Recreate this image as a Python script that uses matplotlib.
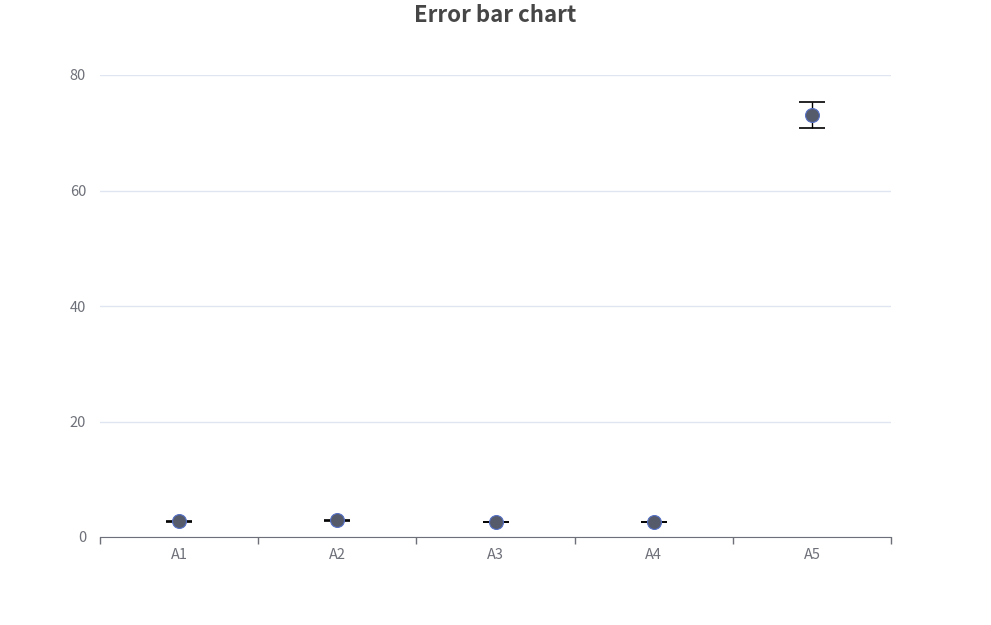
import matplotlib
matplotlib.use("Agg")
import matplotlib.pyplot as plt
import numpy as np

plt.rcParams['font.family'] = ['Noto Sans CJK SC', 'DejaVu Sans']

# data
categories = ['A1', 'A2', 'A3', 'A4', 'A5']
values = [2.7, 2.9, 2.6, 2.6, 73.1]
err_low = [0.05, 0.05, 0.05, 0.05, 2.3]
err_high = [0.05, 0.05, 0.05, 0.05, 2.2]
y_ticks = [0, 20, 40, 60, 80]

fig = plt.figure(figsize=(9.91, 6.25), dpi=100)
ax = fig.add_axes([100 / 991, 88 / 625, 791 / 991, 462 / 625])

x = np.arange(len(categories))
ax.errorbar(x, values, yerr=[err_low, err_high], fmt='none', ecolor='black',
            elinewidth=1, capsize=9.5, capthick=1.2, zorder=2)
ax.plot(x, values, 'o', ms=10, mfc='#565b6b', mec='#5470c6', mew=0.8,
        linestyle='none', zorder=3)

ax.set_xlim(-0.5, len(categories) - 0.5)
ax.set_ylim(0, 80)
ax.set_yticks(y_ticks)
ax.yaxis.grid(True, color='#e0e6f1', lw=1)
ax.set_axisbelow(True)

# category labels centred, ticks on the boundaries
ax.set_xticks(x)
ax.set_xticklabels(categories)
ax.set_xticks(np.arange(len(categories) + 1) - 0.5, minor=True)
ax.tick_params(axis='x', which='major', length=0, pad=8, labelcolor='#6e7079', labelsize=10.5)
ax.tick_params(axis='x', which='minor', length=5, color='#6e7079', width=1)
ax.tick_params(axis='y', length=0, pad=10, labelcolor='#6e7079', labelsize=10.5)

for s in ['top', 'right', 'left']:
    ax.spines[s].set_visible(False)
ax.spines['bottom'].set_color('#6e7079')

fig.text(0.5, 1 - 16 / 625, 'Error bar chart', ha='center', va='center',
         fontsize=16, fontweight='bold', color='#464646')

fig.savefig('out.png', dpi=100)
